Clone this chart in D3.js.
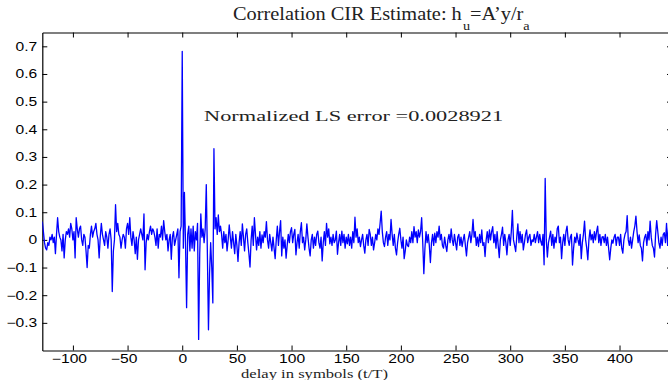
<!DOCTYPE html>
<html>
<head>
<meta charset="utf-8">
<script src="https://cdn.jsdelivr.net/npm/d3@7"></script>
<style>
  html, body { margin: 0; padding: 0; background: #ffffff; }
  svg { display: block; }
</style>
</head>
<body>
<div id="chart"></div>
<script>
// ---------------- data ----------------
const titleMain = "Correlation CIR Estimate: h";
const titleSub1 = "u";
const titleMid = "=A\u2019y/r";
const titleSub2 = "a";
const xLabel = "delay in symbols (t/T)";
const noteText = "Normalized LS error =0.0028921";
const noteAt = [20, 0.43];

const xTicks = [-100, -50, 0, 50, 100, 150, 200, 250, 300, 350, 400];
const yTicks = [-0.3, -0.2, -0.1, 0, 0.1, 0.2, 0.3, 0.4, 0.5, 0.6, 0.7];
const xDomain = [-128, 448];
const yDomain = [-0.4, 0.75];

const delayStart = -128;   // delay of the first sample; one sample per symbol

// delays -128 .. -1
const cirPre = [
  0.066, 0.03, -0.01, -0.03, -0.036, -0.01, -0.02, 0.01, 0.0, 0.02,
  -0.01, 0.01, -0.05, 0.02, 0.08, 0.03, 0.01, 0.0, -0.04, 0.02,
  -0.065, 0.0, 0.03, 0.02, 0.04, 0.01, 0.06, 0.04, 0.0, 0.03,
  -0.065, 0.08, 0.04, 0.01, 0.04, 0.05, 0.0, -0.02, 0.02, 0.01,
  -0.04, -0.1, -0.02, -0.03, 0.02, 0.05, 0.01, 0.03,
  0.04, 0.06, 0.02, 0.0, -0.065, 0.01, 0.06, 0.02, 0.0, -0.02,
  0.03, 0.01, -0.03, 0.02, 0.04, 0.0, -0.187, -0.04, 0.0, 0.127,
  0.03, 0.06, 0.02, 0.01, -0.03, 0.0, 0.02, 0.01, -0.03, 0.04,
  0.06, 0.02, 0.08, 0.01, -0.02, 0.03, 0.0, -0.05, 0.01, -0.07,
  0.0, 0.02, 0.04, 0.02, 0.0, 0.094, -0.108, -0.01,
  0.02, 0.0, 0.03, 0.05, 0.02, 0.04, 0.03, 0.01, -0.02, 0.04,
  -0.03, 0.02, 0.01, 0.05, 0.0, 0.07, 0.03, 0.0, 0.02, -0.04,
  0.0, 0.02, -0.07, 0.01, 0.03, -0.02, 0.0, 0.02, 0.04, -0.137,
  0.03, 0.05
];

// delays 0 .. 35 (main channel taps)
const cirMain = [
  0.682, -0.03, 0.172, -0.01, -0.245, 0.02, 0.05, -0.04, 0.04, -0.03,
  0.05, -0.04, 0.03, 0.0, 0.06, -0.36, -0.05, 0.094, 0.01, 0.04,
  -0.01, 0.04, 0.2, -0.05, -0.325, -0.12, -0.01, -0.1, -0.228, 0.33,
  0.04, 0.08, 0.02, 0.09, 0.03, 0.05
];

// delays 36 .. 448
const cirPost = [
  0.02, -0.03, 0.03, -0.01, 0.02, -0.04, 0.0, 0.054, 0.01, -0.03,
  0.03, -0.01, -0.05, 0.02, -0.02, -0.078, -0.01, 0.03, -0.02, 0.058,
  0.01, -0.04, 0.02, 0.04, -0.01, -0.05, -0.098, 0.0, 0.05, -0.02,
  0.08, 0.02, -0.036, 0.01, -0.02, 0.03, -0.03, 0.018, -0.01, 0.03,
  0.01, 0.066, 0.0, -0.03, 0.02, -0.01, -0.04, 0.01, -0.03, -0.068,
  0.0, 0.05, -0.02, 0.03, 0.07, -0.058, 0.01, -0.03, 0.0, -0.066,
  -0.02, 0.02, -0.01, 0.03, 0.044, -0.01, 0.02, 0.038, -0.054, -0.01,
  0.02, -0.03, 0.03, 0.062, -0.01, 0.01, -0.036, 0.0, 0.058, 0.01,
  -0.03, -0.058, 0.0, 0.02, -0.03, 0.01, -0.02, 0.02, 0.032, -0.01,
  -0.03, 0.01, -0.076, -0.01, 0.03, -0.02, 0.06, 0.01, 0.04, -0.014,
  0.01, -0.02, 0.02, -0.01, 0.0, 0.032, -0.052, -0.01, 0.02, -0.02,
  0.032, -0.01, 0.02, -0.03, 0.01, -0.014, 0.02, -0.02, 0.01, -0.03,
  0.03, -0.01, 0.082, 0.01, 0.04, -0.01, 0.01, -0.024, 0.0, 0.02,
  -0.02, -0.048, 0.0, 0.02, -0.02, 0.038, 0.02, -0.02, 0.01, -0.036,
  -0.01, 0.02, 0.0, 0.04, 0.02, 0.06, 0.104, 0.03, -0.01, -0.024,
  0.01, 0.03, -0.02, 0.02, 0.0, 0.074, 0.02, -0.02, 0.02, -0.03,
  -0.054, -0.01, 0.02, 0.042, 0.0, -0.03, 0.01, -0.068, -0.04, 0.0,
  -0.02, -0.024, 0.01, -0.01, 0.03, -0.01, 0.048, 0.01, 0.03, -0.01,
  0.036, 0.01, 0.03, 0.08, -0.01, -0.122, -0.03, 0.03, -0.01, 0.02,
  -0.02, -0.082, -0.01, 0.02, -0.02, 0.024, -0.01, 0.03, 0.01, 0.05,
  0.0, 0.02, -0.02, -0.03, 0.01, -0.02, -0.042, 0.0, 0.02, -0.01,
  0.04, 0.0, -0.02, 0.02, -0.01, -0.036, 0.01, 0.02, -0.02, 0.01,
  -0.024, 0.0, 0.02, -0.02, -0.058, -0.01, 0.01, 0.03, -0.01, 0.02,
  0.074, 0.01, 0.03, -0.02, 0.01, -0.024, 0.02, -0.01, 0.036, -0.02,
  -0.01, -0.06, 0.0, 0.03, -0.01, 0.036, 0.0, 0.03, 0.048, -0.01,
  0.02, -0.03, 0.03, -0.02, -0.064, 0.0, 0.02, 0.046, -0.02, 0.02,
  -0.01, -0.054, 0.0, 0.02, -0.02, 0.03, 0.107, 0.0, -0.02, -0.042,
  0.01, 0.058, -0.01, 0.03, -0.01, 0.02, -0.036, -0.01, 0.02, 0.036,
  -0.01, 0.01, 0.02, -0.02, 0.0, -0.006, 0.02, -0.01, 0.01, 0.03,
  -0.01, 0.02, -0.006, -0.02, 0.02, -0.09, 0.222, 0.0, -0.062, -0.01,
  0.01, 0.032, -0.02, 0.02, -0.03, 0.01, -0.01, 0.04, 0.05, -0.01,
  0.01, -0.068, -0.01, 0.02, -0.02, 0.03, 0.05, 0.0, -0.02, 0.01,
  0.02, -0.091, -0.03, 0.01, -0.01, 0.024, 0.0, -0.02, 0.02, -0.068,
  -0.01, 0.02, 0.068, 0.0, -0.03, -0.072, 0.0, 0.036, 0.0, 0.02,
  -0.01, 0.03, 0.0, 0.03, 0.05, -0.01, 0.02, -0.02, 0.01, 0.012,
  -0.01, 0.02, -0.02, 0.01, -0.03, -0.072, -0.03, 0.0, -0.012, 0.01,
  0.02, -0.02, 0.01, 0.01, -0.02, 0.02, -0.03, -0.048, 0.0, 0.02,
  0.03, 0.088, 0.0, -0.02, 0.01, -0.03, 0.0, 0.03, 0.05, 0.086,
  0.03, -0.01, 0.018, -0.02, -0.03, -0.076, -0.01, 0.01, 0.02, -0.02,
  0.03, 0.0, 0.068, 0.01, -0.02, -0.03, -0.062, 0.02, 0.07, 0.03,
  -0.01, -0.03, 0.01, -0.02, 0.02, 0.026, -0.01, 0.06, -0.02, 0.05,
  -0.09, -0.06, -0.08
];

// ---------------- drawing ----------------
const W = 668, H = 380;
const plot = { left: 42.3, right: 672, top: 32.5, bottom: 350.5 };

const values = cirPre.concat(cirMain, cirPost);
const series = values.map((v, i) => ({ d: delayStart + i, v: v }));

const x = d3.scaleLinear().domain(xDomain).range([plot.left, plot.right]);
const y = d3.scaleLinear().domain(yDomain).range([plot.bottom, plot.top]);

const svg = d3.select("#chart").append("svg")
  .attr("width", W).attr("height", H)
  .attr("viewBox", `0 0 ${W} ${H}`);

svg.append("defs").append("clipPath").attr("id", "plotclip")
  .append("rect")
  .attr("x", plot.left).attr("y", plot.top)
  .attr("width", plot.right - plot.left).attr("height", plot.bottom - plot.top);

const tickFont = "'Liberation Sans', Arial, Helvetica, sans-serif";
const serifFont = "'Liberation Serif', 'Times New Roman', serif";
const yFmt = v => (Math.abs(v) < 1e-9 ? "0" : d3.format(".1f")(v));

// bottom axis (ticks inward, labels below)
const gx = svg.append("g")
  .attr("transform", `translate(0,${plot.bottom})`)
  .call(d3.axisBottom(x).tickValues(xTicks).tickSizeInner(-5).tickSizeOuter(0).tickPadding(3.5)
    .tickFormat(d3.format("d")));
// top axis (ticks only)
const gxt = svg.append("g")
  .attr("transform", `translate(0,${plot.top})`)
  .call(d3.axisTop(x).tickValues(xTicks).tickSizeInner(-5).tickSizeOuter(0).tickFormat(""));
// left axis
const gy = svg.append("g")
  .attr("transform", `translate(${plot.left},0)`)
  .call(d3.axisLeft(y).tickValues(yTicks).tickSizeInner(-5).tickSizeOuter(0).tickPadding(5)
    .tickFormat(yFmt));
// right axis (ticks only)
const gyr = svg.append("g")
  .attr("transform", `translate(${plot.right},0)`)
  .call(d3.axisRight(y).tickValues(yTicks).tickSizeInner(-5).tickSizeOuter(0).tickFormat(""));

[gx, gxt, gy, gyr].forEach(g => {
  g.select(".domain").attr("stroke", "#000").attr("stroke-width", 1.2);
  g.selectAll(".tick line").attr("stroke", "#000").attr("stroke-width", 1);
  g.selectAll(".tick text")
    .attr("fill", "#000")
    .style("font-family", tickFont)
    .style("font-size", "12px");
});
gx.selectAll(".tick text").attr("dy", "0.71em")
  .attr("dx", d => (d < 0 ? -4 : 0));
// the reference renders its Helvetica tick labels a little wide
[gx, gy].forEach(g => g.selectAll(".tick text").each(function () {
  const w = this.getComputedTextLength();
  d3.select(this).attr("textLength", w * 1.3).attr("lengthAdjust", "spacingAndGlyphs");
}));

// the CIR trace
const line = d3.line().x(p => x(p.d)).y(p => y(p.v));
svg.append("path")
  .datum(series)
  .attr("clip-path", "url(#plotclip)")
  .attr("fill", "none")
  .attr("stroke", "#0000ff")
  .attr("stroke-width", 1.3)
  .attr("stroke-linejoin", "round")
  .attr("d", line);

// title with subscripts (slightly wide, as in the reference)
const title = svg.append("text")
  .attr("transform", "translate(233,20) scale(1.1,1)")
  .attr("x", 0).attr("y", 0)
  .attr("text-anchor", "start")
  .style("font-family", serifFont)
  .style("font-size", "18.5px")
  .attr("fill", "#222");
title.append("tspan").text(titleMain);
title.append("tspan").attr("dy", 10).attr("dx", 1).style("font-size", "13px").text(titleSub1);
title.append("tspan").attr("dy", -10).text(titleMid);
title.append("tspan").attr("dy", 10).style("font-size", "13px").text(titleSub2);

// annotation
svg.append("text")
  .attr("x", x(noteAt[0])).attr("y", y(noteAt[1]))
  .attr("textLength", 299).attr("lengthAdjust", "spacingAndGlyphs")
  .style("font-family", serifFont)
  .style("font-size", "15px")
  .attr("fill", "#222")
  .text(noteText);

// x label
svg.append("text")
  .attr("x", 241).attr("y", 377.5)
  .attr("textLength", 147).attr("lengthAdjust", "spacingAndGlyphs")
  .style("font-family", serifFont)
  .style("font-size", "13px")
  .attr("fill", "#222")
  .text(xLabel);
</script>
</body>
</html>
